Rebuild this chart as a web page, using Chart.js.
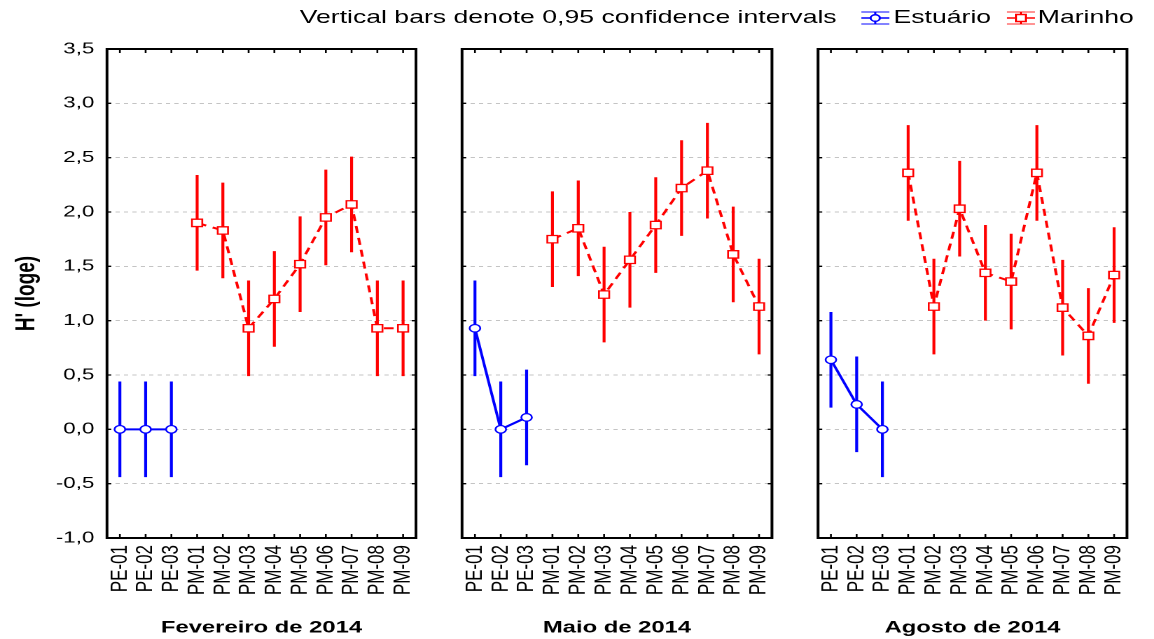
<!DOCTYPE html>
<html>
<head>
<meta charset="utf-8">
<script src="https://cdn.jsdelivr.net/npm/chart.js@4.4.1/dist/chart.umd.min.js"></script>
<style>
  html, body { margin: 0; padding: 0; background: #fff; overflow: hidden; }
  /* the whole figure is drawn narrow and widened horizontally */
  #wrap {
    position: absolute; left: 0; top: 0; width: 824px; height: 639px;
    transform: scaleX(1.4005); transform-origin: 0 0;
    font-family: "Liberation Sans", Arial, sans-serif; color: #000;
  }
  #wrap canvas { position: absolute; top: 0; }
  .head { position: absolute; top: 6px; font-size: 19px; line-height: 22px; white-space: nowrap; }
  .key { position: absolute; top: 10px; }
</style>
</head>
<body>
<div id="wrap">
  <div class="head" style="left:214px">Vertical bars denote 0,95 confidence intervals</div>
  <svg class="key" style="left:614px" width="22" height="16">
    <g stroke="#5a5aff" stroke-width="1.5" fill="none">
      <line x1="1" y1="2" x2="21" y2="2"/><line x1="1" y1="14" x2="21" y2="14"/>
    </g>
    <g stroke="#0000ff" stroke-width="1.5">
      <line x1="1" y1="8" x2="21" y2="8"/><line x1="11" y1="2" x2="11" y2="14"/>
      <circle cx="11" cy="8" r="3.3" fill="#fff"/>
    </g>
  </svg>
  <div class="head" style="left:638px">Estuário</div>
  <svg class="key" style="left:718px" width="22" height="16">
    <g stroke="#ff7070" stroke-width="1.5" fill="none">
      <line x1="1" y1="2" x2="21" y2="2"/><line x1="1" y1="14" x2="21" y2="14"/>
    </g>
    <g stroke="#ff0000" stroke-width="1.5">
      <line x1="1" y1="8" x2="21" y2="8"/><line x1="11" y1="2" x2="11" y2="14"/>
      <rect x="7.5" y="4.5" width="7" height="7" fill="#fff"/>
    </g>
  </svg>
  <div class="head" style="left:741px">Marinho</div>

  <canvas id="fev" width="305" height="639" style="left:0"></canvas>
  <canvas id="mai" width="256" height="639" style="left:305px"></canvas>
  <canvas id="ago" width="263" height="639" style="left:561px"></canvas>
</div>

<script>
const estuaryStations = ["PE-01", "PE-02", "PE-03"];
const marineStations = ["PM-01", "PM-02", "PM-03", "PM-04", "PM-05", "PM-06", "PM-07", "PM-08", "PM-09"];
const categories = estuaryStations.concat(marineStations);

// H' (loge) means and 0,95 CI half-widths per campaign
const fevEstuario = [0.00, 0.00, 0.00];
const fevEstuarioCI = [0.44, 0.44, 0.44];
const fevMarinho = [1.90, 1.83, 0.93, 1.20, 1.52, 1.95, 2.07, 0.93, 0.93];
const fevMarinhoCI = [0.44, 0.44, 0.44, 0.44, 0.44, 0.44, 0.44, 0.44, 0.44];

const maiEstuario = [0.93, 0.00, 0.11];
const maiEstuarioCI = [0.44, 0.44, 0.44];
const maiMarinho = [1.75, 1.85, 1.24, 1.56, 1.88, 2.22, 2.38, 1.61, 1.13];
const maiMarinhoCI = [0.44, 0.44, 0.44, 0.44, 0.44, 0.44, 0.44, 0.44, 0.44];

const agoEstuario = [0.64, 0.23, 0.00];
const agoEstuarioCI = [0.44, 0.44, 0.44];
const agoMarinho = [2.36, 1.13, 2.03, 1.44, 1.36, 2.36, 1.12, 0.86, 1.42];
const agoMarinhoCI = [0.44, 0.44, 0.44, 0.44, 0.44, 0.44, 0.44, 0.44, 0.44];

const yMin = -1.0;
const yMax = 3.5;
const yStep = 0.5;

Chart.defaults.font.family = '"Liberation Sans", Arial, sans-serif';
Chart.defaults.color = "#000";

// vertical confidence bars, drawn under the lines and markers
const errorBars = {
  id: "errorBars",
  beforeDatasetsDraw(chart) {
    const ctx = chart.ctx;
    const y = chart.scales.y;
    chart.data.datasets.forEach((ds, di) => {
      const meta = chart.getDatasetMeta(di);
      ctx.save();
      ctx.strokeStyle = ds.borderColor;
      ctx.lineWidth = 2.1;
      meta.data.forEach((pt, i) => {
        const v = ds.data[i].y;
        const e = ds.errorBars[i];
        ctx.beginPath();
        ctx.moveTo(pt.x, y.getPixelForValue(v + e));
        ctx.lineTo(pt.x, y.getPixelForValue(v - e));
        ctx.stroke();
      });
      ctx.restore();
    });
  },
};

// box around the plot with short inward tick marks
const panelFrame = {
  id: "panelFrame",
  afterDraw(chart) {
    const { ctx, chartArea: a, scales } = chart;
    ctx.save();
    ctx.strokeStyle = "#000";
    ctx.lineWidth = 1.3;
    ctx.beginPath();
    scales.y.ticks.forEach((t) => {
      const py = scales.y.getPixelForValue(t.value);
      ctx.moveTo(a.left, py); ctx.lineTo(a.left + 3, py);
      ctx.moveTo(a.right, py); ctx.lineTo(a.right - 3, py);
    });
    categories.forEach((c, i) => {
      const px = scales.x.getPixelForValue(i);
      ctx.moveTo(px, a.top); ctx.lineTo(px, a.top + 4);
      ctx.moveTo(px, a.bottom); ctx.lineTo(px, a.bottom - 4);
    });
    ctx.stroke();
    ctx.lineWidth = 2;
    ctx.strokeRect(a.left, a.top, a.right - a.left, a.bottom - a.top);
    ctx.restore();
  },
};

function points(stations, values) {
  return values.map((v, i) => ({ x: stations[i], y: v }));
}

function makePanel(id, period, est, estCI, mar, marCI, axisWidth, padRight, showY) {
  new Chart(document.getElementById(id), {
    type: "line",
    data: {
      labels: categories,
      datasets: [
        {
          label: "Estuário",
          data: points(estuaryStations, est),
          errorBars: estCI,
          borderColor: "#0000ff",
          borderWidth: 2,
          pointStyle: "circle",
          pointRadius: 3.8,
          pointBorderWidth: 1.3,
          pointBackgroundColor: "#fff",
          pointBorderColor: "#0000ff",
        },
        {
          label: "Marinho",
          data: points(marineStations, mar),
          errorBars: marCI,
          borderColor: "#ff0000",
          borderWidth: 2,
          borderDash: [7, 5],
          pointStyle: "rect",
          pointRadius: 5.2,
          pointBorderWidth: 1.3,
          pointBackgroundColor: "#fff",
          pointBorderColor: "#ff0000",
        },
      ],
    },
    options: {
      responsive: false,
      animation: false,
      devicePixelRatio: 2,
      layout: { padding: { top: 49, right: padRight, left: 0, bottom: 0 } },
      plugins: { legend: { display: false }, tooltip: { enabled: false } },
      scales: {
        x: {
          offset: true,
          grid: { display: false, drawTicks: false },
          border: { display: false },
          ticks: {
            autoSkip: false,
            minRotation: 90,
            maxRotation: 90,
            padding: 7,
            font: { size: 17 },
          },
          title: {
            display: true,
            text: period,
            font: { size: 17, weight: "bold" },
            padding: { top: 0, bottom: 1 },
          },
          afterFit(scale) {
            scale.height = 101;
            scale.paddingLeft = 0;
            scale.paddingRight = 0;
          },
        },
        y: {
          min: yMin,
          max: yMax,
          grid: { color: "#c4c4c4", lineWidth: 1, drawTicks: false },
          border: { display: false, dash: [3, 3] },
          ticks: {
            display: showY,
            stepSize: yStep,
            padding: 9,
            font: { size: 16 },
            callback: (v) => v.toFixed(1).replace(".", ","),
          },
          title: {
            display: showY,
            text: "H' (loge)",
            font: { size: 19, weight: "bold" },
            padding: { top: 8 },
          },
          afterFit(scale) { scale.width = axisWidth; },
        },
      },
    },
    plugins: [errorBars, panelFrame],
  });
}

makePanel("fev", "Fevereiro de 2014", fevEstuario, fevEstuarioCI, fevMarinho, fevMarinhoCI, 76.4, 8, true);
makePanel("mai", "Maio de 2014", maiEstuario, maiEstuarioCI, maiMarinho, maiMarinhoCI, 24.9, 9.8, false);
makePanel("ago", "Agosto de 2014", agoEstuario, agoEstuarioCI, agoMarinho, agoMarinhoCI, 23.1, 19.3, false);
</script>
</body>
</html>
